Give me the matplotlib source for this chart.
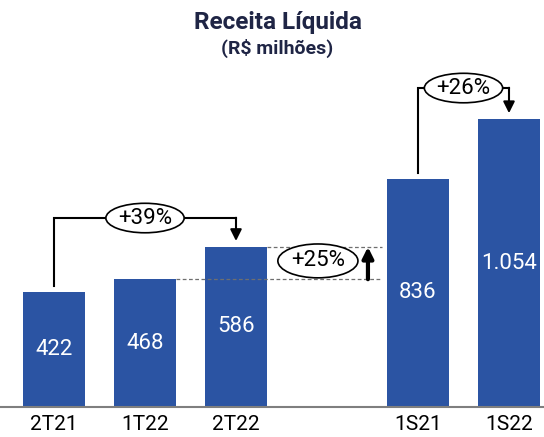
import matplotlib
matplotlib.use("Agg")
import matplotlib.pyplot as plt
from matplotlib.patches import Ellipse

# chart data
categories = ["2T21", "1T22", "2T22", "1S21", "1S22"]
values = [422, 468, 586, 836, 1054]
slots = [0, 1, 2, 4, 5]
growth_labels = ["+39%", "+25%", "+26%"]

BAR_COLOR = "#2B54A3"
TITLE_COLOR = "#1F2545"


def fmt_br(v):
    return f"{v:,}".replace(",", ".")


def bracket(ax, i0, i1, label, level):
    x0, x1 = slots[i0], slots[i1]
    ax.plot([x0, x0, x1], [values[i0] + 20, level, level], color="black", lw=1.5,
            solid_joinstyle="miter", zorder=3)
    ax.annotate("", xy=(x1, values[i1] + 22), xytext=(x1, level + 1),
                arrowprops=dict(arrowstyle="-|>", color="black", lw=1.5,
                                mutation_scale=17, shrinkA=0, shrinkB=0), zorder=3)
    xm = (x0 + x1) / 2
    ax.add_patch(Ellipse((xm, level), 0.86, 108, facecolor="white",
                         edgecolor="black", lw=1.2, zorder=4))
    ax.text(xm, level, label, ha="center", va="center", fontsize=16, zorder=5)


def main():
    plt.rcParams["font.family"] = ["Roboto", "DejaVu Sans"]
    fig = plt.figure(figsize=(5.44, 4.37), dpi=100)
    ax = fig.add_axes([0, 30 / 437, 1, 355 / 437])

    ax.bar(slots, values, width=0.68, color=BAR_COLOR, zorder=2)
    for x, v in zip(slots, values):
        ax.text(x, v / 2, fmt_br(v), ha="center", va="center", color="white",
                fontsize=16)

    ax.set_xlim(-54 / 91, -54 / 91 + 544 / 91)
    ax.set_ylim(0, 1300)
    ax.set_xticks(slots)
    ax.set_xticklabels(categories, fontsize=15)
    ax.tick_params(axis="x", length=0, pad=6)
    ax.set_yticks([])
    for s in ["top", "left", "right"]:
        ax.spines[s].set_visible(False)
    ax.spines["bottom"].set_color("#7F7F7F")
    ax.spines["bottom"].set_linewidth(1.5)

    # +39% : 2T21 -> 2T22
    bracket(ax, 0, 2, growth_labels[0], 692)
    # +26% : 1S21 -> 1S22
    bracket(ax, 3, 4, growth_labels[2], 1168)

    # +25% : 1T22 -> 2T22 (dashed guides)
    xr = 3.6
    ax.plot([slots[2] + 0.34, xr], [values[2], values[2]], ls="--", color="#6F6F6F",
            lw=0.9, dashes=(3, 2))
    ax.plot([slots[1] + 0.34, xr], [values[1], values[1]], ls="--", color="#6F6F6F",
            lw=0.9, dashes=(3, 2))
    ax.annotate("", xy=(3.45, values[2]), xytext=(3.45, values[1]),
                arrowprops=dict(arrowstyle="-|>", color="black", lw=3,
                                mutation_scale=16, shrinkA=0, shrinkB=0))
    ym = (values[1] + values[2]) / 2 + 8
    ax.add_patch(Ellipse((2.9, ym), 0.88, 124, facecolor="white",
                         edgecolor="black", lw=1.2, zorder=4))
    ax.text(2.9, ym, growth_labels[1], ha="center", va="center", fontsize=16, zorder=5)

    fig.text(0.51, 1 - 22 / 437, "Receita Líquida", ha="center", va="center",
             fontsize=17.5, fontweight="bold", color=TITLE_COLOR)
    fig.text(0.51, 1 - 48 / 437, "(R$ milhões)", ha="center", va="center",
             fontsize=14, fontweight="bold", color=TITLE_COLOR)

    fig.savefig("out.png", dpi=100)


if __name__ == "__main__":
    main()
